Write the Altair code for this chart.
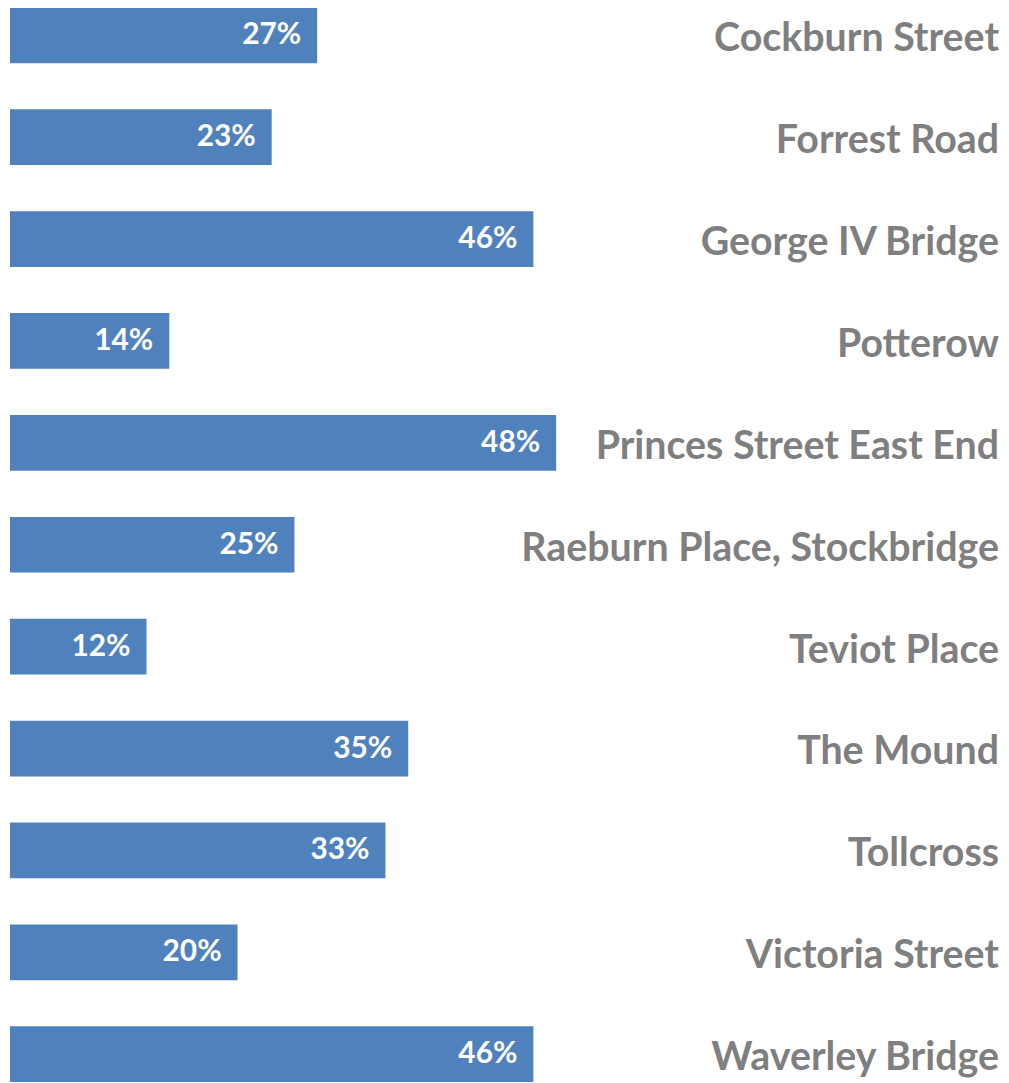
import altair as alt
import pandas as pd

streets = ["Cockburn Street", "Forrest Road", "George IV Bridge", "Potterow",
           "Princes Street East End", "Raeburn Place, Stockbridge", "Teviot Place",
           "The Mound", "Tollcross", "Victoria Street", "Waverley Bridge"]
values = [27, 23, 46, 14, 48, 25, 12, 35, 33, 20, 46]

df = pd.DataFrame({"street": streets, "value": values})
df["label"] = df["value"].astype(str) + "%"

W = 995
H = 1200
FONT = "Lato"

y = alt.Y("street:N", sort=streets, axis=None,
          scale=alt.Scale(paddingInner=0.453, paddingOuter=0, range=[-3, 1076]))
x = alt.X("value:Q", axis=None, scale=alt.Scale(domain=[0, 87.1], nice=False, zero=True,
                                                range=[0, 995]))

bars = alt.Chart(df).mark_bar(color="#4F81BD").encode(x=x, y=y)

vals = alt.Chart(df).mark_text(align="right", baseline="middle", dx=-16,
                               color="white", font=FONT, fontWeight="bold",
                               fontSize=30).encode(x=x, y=y, text="label:N")

cats = alt.Chart(df).mark_text(align="right", baseline="middle", dy=4,
                               color="#7F7F7F", font=FONT, fontWeight="bold",
                               fontSize=39.5).encode(x=alt.value(993), y=y, text="street:N")

chart = (bars + vals + cats).properties(
    width=W, height=H,
    autosize=alt.AutoSizeParams(type="none"),
    padding={"left": 2, "top": 0, "right": 0, "bottom": 0},
).configure_view(stroke=None)

chart.save("out.html", embed_options={"renderer": "svg", "actions": False})
